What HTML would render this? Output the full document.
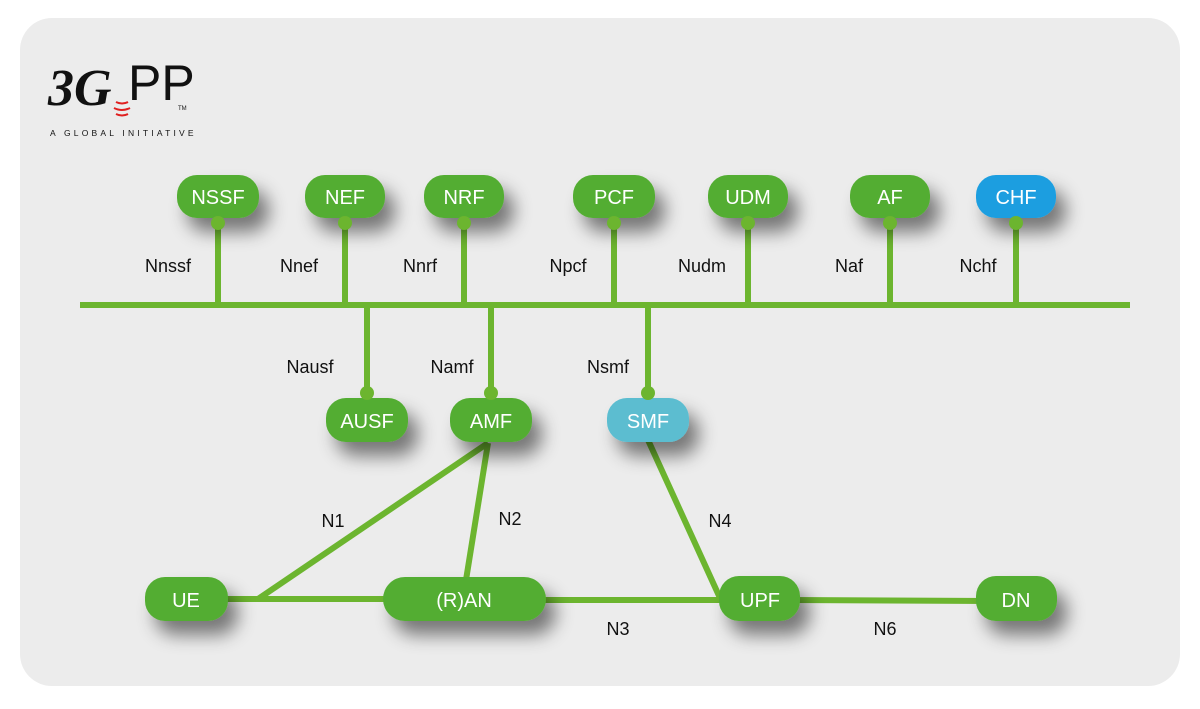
<!DOCTYPE html>
<html><head><meta charset="utf-8"><style>
html,body{margin:0;padding:0;background:#fff;}
svg{display:block;font-family:"Liberation Sans",Arial,sans-serif;}
</style></head><body>
<svg width="1200" height="709" viewBox="0 0 1200 709" xmlns="http://www.w3.org/2000/svg">
<defs>
<filter id="sh" x="-50%" y="-50%" width="220%" height="260%">
<feGaussianBlur in="SourceAlpha" stdDeviation="9"/>
<feOffset dx="10" dy="14"/>
<feComponentTransfer><feFuncA type="linear" slope="0.5"/></feComponentTransfer>
<feMerge><feMergeNode/><feMergeNode in="SourceGraphic"/></feMerge>
</filter>
</defs>
<rect x="20" y="18" width="1160" height="668" rx="32" fill="#ececec"/>
<!-- logo -->
<text x="48" y="105" font-size="52" font-weight="bold" font-style="italic" fill="#111" font-family="Liberation Serif,serif">3G</text>
<text x="128" y="100" font-size="50" fill="#111" font-family="Liberation Sans,sans-serif">PP</text>
<text x="178" y="110" font-size="6" fill="#111">TM</text>
<path d="M116 102 q6 3 12 0 M114 108 q8 4 16 0 M116 114 q6 3 12 0" stroke="#e02020" stroke-width="2" fill="none"/>
<text x="50" y="136" font-size="8.5" letter-spacing="3.2" fill="#111">A GLOBAL INITIATIVE</text>

<g stroke="#6cb52f" stroke-width="6" fill="none">
<line x1="80" y1="305" x2="1130" y2="305"/>
<line x1="218" y1="222" x2="218" y2="305"/>
<line x1="345" y1="222" x2="345" y2="305"/>
<line x1="464" y1="222" x2="464" y2="305"/>
<line x1="614" y1="222" x2="614" y2="305"/>
<line x1="748" y1="222" x2="748" y2="305"/>
<line x1="890" y1="222" x2="890" y2="305"/>
<line x1="1016" y1="222" x2="1016" y2="305"/>
<line x1="367" y1="305" x2="367" y2="393"/>
<line x1="491" y1="305" x2="491" y2="393"/>
<line x1="648" y1="305" x2="648" y2="393"/>
<line x1="220" y1="599" x2="400" y2="599"/>
<line x1="258" y1="599" x2="488" y2="443"/>
<line x1="488" y1="443" x2="466" y2="580"/>
<line x1="648" y1="440" x2="720" y2="598"/>
<line x1="530" y1="600" x2="730" y2="600"/>
<line x1="790" y1="600" x2="990" y2="601"/>
</g>
<g filter="url(#sh)">
<rect x="177" y="175" width="82" height="43" rx="20" fill="#52ad32"/>
<rect x="305" y="175" width="80" height="43" rx="20" fill="#52ad32"/>
<rect x="424" y="175" width="80" height="43" rx="20" fill="#52ad32"/>
<rect x="573" y="175" width="82" height="43" rx="20" fill="#52ad32"/>
<rect x="708" y="175" width="80" height="43" rx="20" fill="#52ad32"/>
<rect x="850" y="175" width="80" height="43" rx="20" fill="#52ad32"/>
<rect x="976" y="175" width="80" height="43" rx="20" fill="#1a9ee0"/>
<rect x="326" y="398" width="82" height="44" rx="20" fill="#52ad32"/>
<rect x="450" y="398" width="82" height="44" rx="20" fill="#52ad32"/>
<rect x="607" y="398" width="82" height="44" rx="20" fill="#5bbdd0"/>
<rect x="145" y="577" width="83" height="44" rx="20" fill="#52ad32"/>
<rect x="383" y="577" width="163" height="44" rx="22" fill="#52ad32"/>
<rect x="719" y="576" width="81" height="45" rx="20" fill="#52ad32"/>
<rect x="976" y="576" width="81" height="45" rx="20" fill="#52ad32"/>
</g>
<g fill="#6cb52f">
<circle cx="218" cy="223" r="7"/><circle cx="345" cy="223" r="7"/><circle cx="464" cy="223" r="7"/>
<circle cx="614" cy="223" r="7"/><circle cx="748" cy="223" r="7"/><circle cx="890" cy="223" r="7"/>
<circle cx="1016" cy="223" r="7"/>
<circle cx="367" cy="393" r="7"/><circle cx="491" cy="393" r="7"/><circle cx="648" cy="393" r="7"/>
</g>
<g fill="#fff" font-size="20" text-anchor="middle">
<text x="218" y="204">NSSF</text><text x="345" y="204">NEF</text><text x="464" y="204">NRF</text>
<text x="614" y="204">PCF</text><text x="748" y="204">UDM</text><text x="890" y="204">AF</text>
<text x="1016" y="204">CHF</text>
<text x="367" y="428">AUSF</text><text x="491" y="428">AMF</text><text x="648" y="428">SMF</text>
<text x="186" y="607">UE</text><text x="464" y="607">(R)AN</text>
<text x="760" y="607">UPF</text><text x="1016" y="607">DN</text>
</g>
<g fill="#111" font-size="18" text-anchor="middle">
<text x="168" y="272">Nnssf</text><text x="299" y="272">Nnef</text><text x="420" y="272">Nnrf</text>
<text x="568" y="272">Npcf</text><text x="702" y="272">Nudm</text><text x="849" y="272">Naf</text>
<text x="978" y="272">Nchf</text>
<text x="310" y="373">Nausf</text><text x="452" y="373">Namf</text><text x="608" y="373">Nsmf</text>
<text x="333" y="527">N1</text><text x="510" y="525">N2</text><text x="720" y="527">N4</text>
<text x="618" y="635">N3</text><text x="885" y="635">N6</text>
</g>
</svg>
</body></html>
